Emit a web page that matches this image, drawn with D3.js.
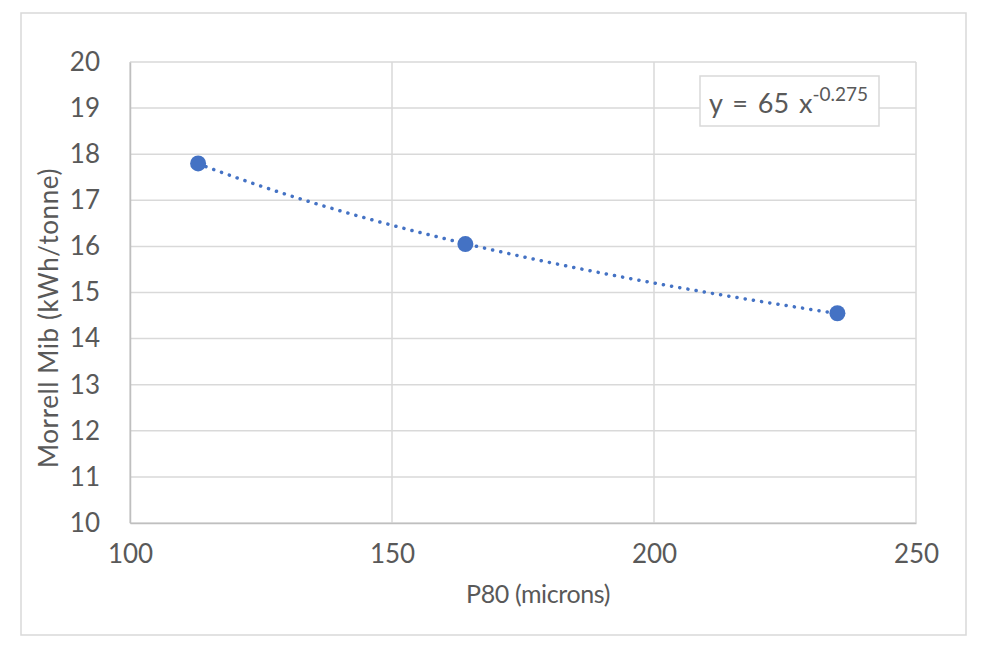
<!DOCTYPE html>
<html>
<head>
<meta charset="utf-8">
<script src="https://cdn.jsdelivr.net/npm/d3@7"></script>
<style>
  body { margin: 0; background: #fff; }
  text { font-family: Lato, "Noto Sans", sans-serif; fill: #595959; }
</style>
</head>
<body>
<script>
const width = 982;
const height = 656;

// data
const p80 = [113, 164, 235];
const mib = [17.80, 16.05, 14.55];
const xTicks = [100, 150, 200, 250];
const yTicks = [10, 11, 12, 13, 14, 15, 16, 17, 18, 19, 20];

const margin = {left: 130, right: 66, top: 62, bottom: 133};

const svg = d3.select('body')
  .append('svg')
  .attr('width', width)
  .attr('height', height)

// outer chart border
svg.append('rect')
  .attr('x', 21).attr('y', 13)
  .attr('width', 945).attr('height', 622)
  .attr('fill', '#fff')
  .attr('stroke', '#d9d9d9')
  .attr('stroke-width', 1.5)

const x = d3.scaleLinear()
  .domain([100, 250])
  .range([margin.left, width - margin.right])

const y = d3.scaleLinear()
  .domain([10, 20])
  .range([height - margin.bottom, margin.top])

// gridlines
svg.append('g')
  .selectAll('line')
  .data(yTicks)
  .enter()
  .append('line')
  .attr('x1', x(100)).attr('x2', x(250))
  .attr('y1', d => y(d)).attr('y2', d => y(d))
  .attr('stroke', '#d9d9d9')
  .attr('stroke-width', 1.5)

svg.append('g')
  .selectAll('line')
  .data(xTicks)
  .enter()
  .append('line')
  .attr('x1', d => x(d)).attr('x2', d => x(d))
  .attr('y1', y(10)).attr('y2', y(20))
  .attr('stroke', '#d9d9d9')
  .attr('stroke-width', 1.5)

// axes
const xAxis = svg.append('g')
  .attr('transform', `translate(0,${y(10)})`)
  .call(d3.axisBottom(x).tickValues(xTicks).tickSize(0).tickPadding(22))
xAxis.select('.domain').attr('stroke', '#bfbfbf').attr('stroke-width', 1.5)
xAxis.selectAll('text').attr('font-size', 26).attr('fill', '#595959')
  .style('font-family', 'Lato')

const yAxis = svg.append('g')
  .attr('transform', `translate(${x(100)},0)`)
  .call(d3.axisLeft(y).tickValues(yTicks).tickSize(0).tickPadding(30))
yAxis.select('.domain').attr('stroke', '#bfbfbf').attr('stroke-width', 1.5)
yAxis.selectAll('text').attr('font-size', 26).attr('fill', '#595959')
  .style('font-family', 'Lato')

// axis titles
svg.append('text')
  .text('P80 (microns)')
  .attr('x', 538)
  .attr('y', 603)
  .attr('text-anchor', 'middle')
  .attr('font-size', 25)
  .attr('letter-spacing', -0.4)

svg.append('text')
  .text('Morrell Mib (kWh/tonne)')
  .attr('transform', 'rotate(-90)')
  .attr('x', -318)
  .attr('y', 58)
  .attr('text-anchor', 'middle')
  .attr('font-size', 26)
  .attr('letter-spacing', 0.6)

// power trendline fitted on log-log data (least squares, like Excel)
const lx = p80.map(Math.log);
const ly = mib.map(Math.log);
const mx = d3.mean(lx);
const my = d3.mean(ly);
const b = d3.sum(lx, (v, i) => (v - mx) * (ly[i] - my)) / d3.sum(lx, v => (v - mx) * (v - mx));
const a = Math.exp(my - b * mx);

const trend = d3.range(d3.min(p80), d3.max(p80) + 0.5, 1).map(v => [v, a * Math.pow(v, b)]);

svg.append('path')
  .datum(trend)
  .attr('d', d3.line().x(d => x(d[0])).y(d => y(d[1])))
  .attr('fill', 'none')
  .attr('stroke', '#4472c4')
  .attr('stroke-width', 3.5)
  .attr('stroke-linecap', 'round')
  .attr('stroke-dasharray', '0.1 8.2')

// points
svg.selectAll('circle')
  .data(p80)
  .enter()
  .append('circle')
  .attr('cx', d => x(d))
  .attr('cy', (d, i) => y(mib[i]))
  .attr('r', 8)
  .attr('fill', '#4472c4')

// equation label
svg.append('rect')
  .attr('x', 700).attr('y', 76)
  .attr('width', 179).attr('height', 50)
  .attr('fill', '#fff')
  .attr('stroke', '#d9d9d9')
  .attr('stroke-width', 1.5)

const eq = svg.append('text')
  .attr('x', 709)
  .attr('y', 113)
  .attr('font-size', 27)
  .attr('word-spacing', 3)
eq.append('tspan').text(`y = ${Math.round(a)} x`)
eq.append('tspan').text(b.toFixed(3))
  .attr('font-size', 19)
  .attr('dy', -12)
</script>
</body>
</html>
